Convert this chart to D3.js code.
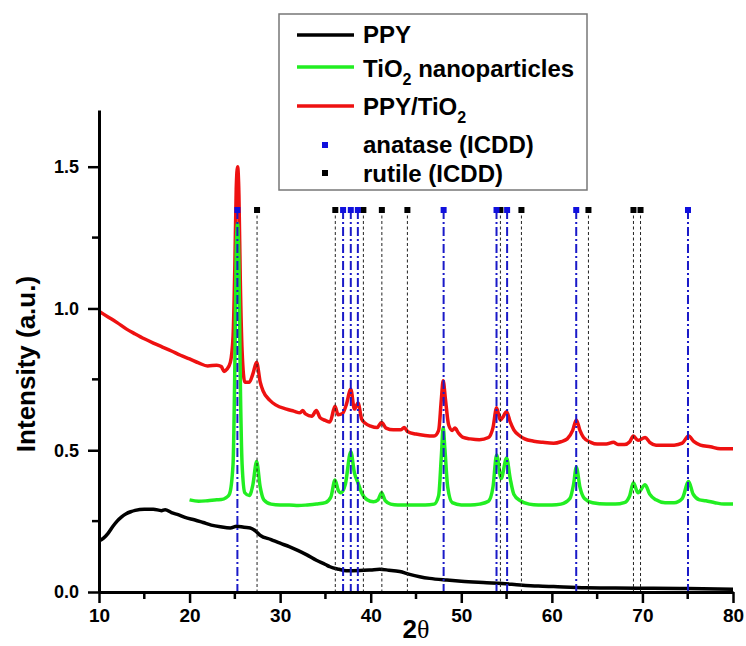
<!DOCTYPE html>
<html>
<head>
<meta charset="utf-8">
<script src="https://cdn.jsdelivr.net/npm/d3@7"></script>
<style>
  body { margin: 0; background: #fff; }
  text { font-family: Arial, "Liberation Sans", sans-serif; font-weight: bold; }
</style>
</head>
<body>
<svg></svg>
<script>
const WIDTH = 746;
const HEIGHT = 646;

// PPY (black)
const ppyX = [10, 10.5, 11, 11.5, 12, 12.5, 13, 13.5, 14, 15, 16, 16.9, 17.3, 18, 18.8, 19.5, 20.6, 21.5, 22.4, 23.4, 24.5, 25.2, 26, 26.7, 27.3, 27.8, 29, 30, 31, 32, 33, 34, 35, 35.5, 36.5, 37.3, 38.8, 40, 41, 42, 43.2, 44.3, 45.4, 46.5, 48.4, 50, 52.8, 54.5, 56.5, 58.5, 60.2, 63.8, 67, 71.2, 75, 80];
const ppyY = [0.18, 0.19, 0.207, 0.23, 0.25, 0.265, 0.276, 0.283, 0.288, 0.292, 0.292, 0.287, 0.29, 0.28, 0.272, 0.263, 0.254, 0.245, 0.236, 0.23, 0.226, 0.232, 0.228, 0.226, 0.215, 0.2, 0.185, 0.172, 0.16, 0.146, 0.13, 0.112, 0.097, 0.089, 0.08, 0.075, 0.076, 0.078, 0.08, 0.077, 0.072, 0.062, 0.054, 0.048, 0.042, 0.038, 0.033, 0.03, 0.025, 0.021, 0.019, 0.015, 0.014, 0.013, 0.012, 0.01];

// TiO2 nanoparticles (green)
const tioX = [20, 21, 22, 23, 23.5, 24, 24.4, 24.8, 25, 25.15, 25.3, 25.45, 25.6, 25.8, 26.1, 26.6, 27, 27.4, 27.8, 28.2, 29, 30, 31, 32, 33, 34, 35, 35.6, 36.06, 36.4, 36.7, 37.2, 37.8, 38.2, 38.6, 39, 39.6, 40.3, 40.8, 41.2, 41.6, 42.2, 43, 44, 45, 46, 47, 47.5, 47.8, 48, 48.2, 48.5, 49, 50, 51, 52, 53, 53.5, 53.9, 54.4, 55, 55.4, 55.8, 56.5, 57.5, 58.5, 60, 61, 62, 62.4, 62.7, 63.1, 63.6, 64.5, 66, 67, 68, 68.6, 69, 69.5, 70.3, 70.8, 71.5, 72.5, 73.5, 74.4, 75.1, 75.6, 76.3, 77, 78, 79, 80];
const tioY = [0.325, 0.32, 0.322, 0.325, 0.326, 0.332, 0.345, 0.45, 0.8, 1.2, 1.3, 1.15, 0.75, 0.45, 0.35, 0.34, 0.38, 0.46, 0.37, 0.325, 0.31, 0.307, 0.307, 0.305, 0.307, 0.31, 0.315, 0.335, 0.395, 0.36, 0.35, 0.38, 0.495, 0.42, 0.385, 0.35, 0.325, 0.318, 0.325, 0.35, 0.322, 0.31, 0.307, 0.307, 0.307, 0.307, 0.31, 0.34, 0.48, 0.58, 0.5, 0.37, 0.315, 0.307, 0.307, 0.31, 0.32, 0.37, 0.483, 0.4, 0.473, 0.4, 0.345, 0.322, 0.31, 0.307, 0.307, 0.31, 0.33, 0.38, 0.44, 0.37, 0.33, 0.315, 0.31, 0.31, 0.315, 0.34, 0.385, 0.35, 0.378, 0.345, 0.325, 0.315, 0.315, 0.33, 0.39, 0.345, 0.325, 0.322, 0.315, 0.31, 0.31];

// PPY/TiO2 (red)
const compX = [10, 11, 12, 13, 14, 15, 16, 17, 18, 19, 20, 21, 22, 23, 23.5, 23.8, 24.1, 24.5, 24.8, 25, 25.15, 25.3, 25.45, 25.6, 25.8, 26.1, 26.6, 27, 27.4, 27.8, 28.1, 28.9, 29.5, 30.7, 31.5, 32.2, 32.5, 32.8, 33.5, 34, 34.4, 35, 35.5, 36.06, 36.4, 36.9, 37.3, 37.8, 38.2, 38.6, 39, 39.4, 40, 40.7, 41.2, 41.7, 42.5, 43.3, 43.7, 44.1, 45, 46, 47, 47.5, 47.8, 48, 48.25, 48.6, 49, 49.3, 49.7, 50.2, 51, 52, 53, 53.5, 53.9, 54.3, 54.55, 55, 55.4, 55.8, 56.5, 57, 58, 59, 60.2, 61, 61.7, 62.3, 62.7, 63.1, 63.5, 64.3, 65, 66, 66.8, 67.3, 68, 68.6, 69, 69.5, 70.3, 70.8, 71.5, 72.5, 73.5, 74.4, 75.1, 75.7, 76.4, 77.5, 78.6, 80];
const compY = [0.99, 0.97, 0.95, 0.928, 0.91, 0.893, 0.878, 0.864, 0.85, 0.835, 0.822, 0.808, 0.797, 0.8, 0.795, 0.778, 0.785, 0.81, 0.9, 1.15, 1.42, 1.5, 1.4, 1.1, 0.85, 0.74, 0.74, 0.77, 0.81, 0.74, 0.71, 0.675, 0.66, 0.645, 0.638, 0.632, 0.64, 0.628, 0.62, 0.64, 0.615, 0.605, 0.6, 0.655, 0.625, 0.63, 0.66, 0.715, 0.645, 0.667, 0.61, 0.595, 0.585, 0.58, 0.598, 0.578, 0.572, 0.572, 0.58, 0.565, 0.557, 0.552, 0.55, 0.57, 0.68, 0.745, 0.68, 0.59, 0.57, 0.578, 0.56, 0.545, 0.54, 0.537, 0.545, 0.58, 0.65, 0.607, 0.615, 0.636, 0.6, 0.572, 0.55, 0.54, 0.532, 0.528, 0.525, 0.53, 0.54, 0.57, 0.607, 0.57, 0.545, 0.528, 0.522, 0.522, 0.528, 0.52, 0.52, 0.53, 0.55, 0.535, 0.545, 0.528, 0.518, 0.518, 0.518, 0.525, 0.55, 0.53, 0.518, 0.512, 0.505, 0.505];

// reference peak positions (ICDD)
const anatase = [25.28, 36.95, 37.8, 38.58, 48.05, 53.89, 55.06, 62.69, 75.03];
const rutile = [27.45, 36.09, 39.19, 41.23, 44.05, 54.32, 56.64, 64.04, 69.01, 69.79];

// tick values
const xTicks = [10, 20, 30, 40, 50, 60, 70, 80];
const xMinor = [15, 25, 35, 45, 55, 65, 75];
const yTicks = [0, 0.5, 1.0, 1.5];
const yMinor = [0.25, 0.75, 1.25];

const svg = d3.select('svg')
    .attr('width', WIDTH)
    .attr('height', HEIGHT);

const xScale = d3.scaleLinear().domain([10, 80]).range([99, 733]);
const yScale = d3.scaleLinear().domain([0, 1.7]).range([592, 110]);

const markerY = 210; // row of little squares above the pattern

function toPoints(xs, ys) {
    return xs.map(function(x, i) { return [x, ys[i]]; });
}

const line = d3.line()
    .x(function(d) { return xScale(d[0]); })
    .y(function(d) { return yScale(d[1]); })
    .curve(d3.curveMonotoneX);

// curves: black under red under green
svg.append('path').attr('d', line(toPoints(ppyX, ppyY)))
    .attr('fill', 'none').attr('stroke', '#000').attr('stroke-width', 3.5).attr('stroke-linejoin', 'round');
svg.append('path').attr('d', line(toPoints(compX, compY)))
    .attr('fill', 'none').attr('stroke', '#ee1111').attr('stroke-width', 3.5).attr('stroke-linejoin', 'round');
svg.append('path').attr('d', line(toPoints(tioX, tioY)))
    .attr('fill', 'none').attr('stroke', '#22ee22').attr('stroke-width', 3.5).attr('stroke-linejoin', 'round');

// rutile drop lines (thin dashed black)
svg.selectAll('line.rutile')
    .data(rutile)
    .enter()
    .append('line').attr('class', 'rutile')
    .attr('x1', function(d) { return xScale(d); })
    .attr('x2', function(d) { return xScale(d); })
    .attr('y1', markerY)
    .attr('y2', yScale(0))
    .attr('stroke', '#222')
    .attr('stroke-width', 1)
    .attr('stroke-dasharray', '3,2.5');

// anatase drop lines (blue dash-dot)
svg.selectAll('line.anatase')
    .data(anatase)
    .enter()
    .append('line').attr('class', 'anatase')
    .attr('x1', function(d) { return xScale(d); })
    .attr('x2', function(d) { return xScale(d); })
    .attr('y1', markerY)
    .attr('y2', yScale(0))
    .attr('stroke', '#1a1ac8')
    .attr('stroke-width', 2)
    .attr('stroke-dasharray', '9,3,2,3');

// markers
svg.selectAll('rect.rutile')
    .data(rutile)
    .enter()
    .append('rect').attr('class', 'rutile')
    .attr('x', function(d) { return xScale(d) - 3; })
    .attr('y', markerY - 3)
    .attr('width', 6).attr('height', 6)
    .attr('fill', '#000');
svg.selectAll('rect.anatase')
    .data(anatase)
    .enter()
    .append('rect').attr('class', 'anatase')
    .attr('x', function(d) { return xScale(d) - 3; })
    .attr('y', markerY - 3)
    .attr('width', 6).attr('height', 6)
    .attr('fill', '#1010dd');

// axes
const bottomAxis = d3.axisBottom(xScale).tickValues(xTicks).tickSize(11).tickSizeOuter(0).tickPadding(6);
const gx = svg.append('g').attr('id', 'bottom-axis')
    .attr('transform', 'translate(0,' + yScale(0) + ')')
    .call(bottomAxis);
gx.select('.domain').attr('stroke-width', 3);
gx.selectAll('.tick line').attr('stroke-width', 2.5);
gx.selectAll('.tick text').attr('font-size', 19).attr('font-family', 'Arial, "Liberation Sans", sans-serif').attr('font-weight', 'bold').attr('fill', '#000');
gx.selectAll('line.minor')
    .data(xMinor)
    .enter()
    .append('line').attr('class', 'minor')
    .attr('x1', function(d) { return xScale(d); })
    .attr('x2', function(d) { return xScale(d); })
    .attr('y1', 0).attr('y2', 7)
    .attr('stroke', '#000').attr('stroke-width', 2.5);

const leftAxis = d3.axisLeft(yScale).tickValues(yTicks).tickFormat(d3.format('.1f')).tickSize(11).tickSizeOuter(0).tickPadding(9);
const gy = svg.append('g').attr('id', 'left-axis')
    .attr('transform', 'translate(' + xScale(10) + ',0)')
    .call(leftAxis);
gy.select('.domain').attr('stroke-width', 3);
gy.selectAll('.tick line').attr('stroke-width', 2.5);
gy.selectAll('.tick text').attr('font-size', 18).attr('font-family', 'Arial, "Liberation Sans", sans-serif').attr('font-weight', 'bold').attr('fill', '#000');
gy.selectAll('line.minor')
    .data(yMinor)
    .enter()
    .append('line').attr('class', 'minor')
    .attr('y1', function(d) { return yScale(d); })
    .attr('y2', function(d) { return yScale(d); })
    .attr('x1', 0).attr('x2', -7)
    .attr('stroke', '#000').attr('stroke-width', 2.5);

// axis titles
svg.append('text')
    .attr('transform', 'translate(35,364) rotate(-90)')
    .attr('text-anchor', 'middle')
    .attr('font-size', 26)
    .text('Intensity (a.u.)');
const xt = svg.append('text')
    .attr('x', 416).attr('y', 638)
    .attr('text-anchor', 'middle')
    .attr('font-size', 26);
xt.append('tspan').text('2');
xt.append('tspan').attr('font-family', '"Liberation Serif", "DejaVu Serif", serif').attr('font-weight', 'normal').text('\u03b8');

// legend
const legend = svg.append('g').attr('id', 'legend');
legend.append('rect')
    .attr('x', 279).attr('y', 14).attr('width', 308).attr('height', 176)
    .attr('fill', '#fff').attr('stroke', '#777').attr('stroke-width', 1.5);

const legendLines = [
    { color: '#000', y: 35 },
    { color: '#22ee22', y: 67 },
    { color: '#ee1111', y: 106 }
];
legend.selectAll('line.item')
    .data(legendLines)
    .enter()
    .append('line').attr('class', 'item')
    .attr('x1', 297).attr('x2', 354)
    .attr('y1', function(d) { return d.y; })
    .attr('y2', function(d) { return d.y; })
    .attr('stroke', function(d) { return d.color; })
    .attr('stroke-width', 3.5);
legend.append('rect').attr('x', 322).attr('y', 142).attr('width', 6).attr('height', 6).attr('fill', '#1010dd');
legend.append('rect').attr('x', 322).attr('y', 170).attr('width', 6).attr('height', 6).attr('fill', '#000');

function legendText(y, parts) {
    const t = legend.append('text').attr('x', 363).attr('y', y).attr('font-size', 24);
    parts.forEach(function(p) {
        if (p.sub) {
            t.append('tspan').attr('dy', 8).attr('font-size', 16).text(p.s);
        } else {
            t.append('tspan').attr('dy', p.up ? -8 : 0).text(p.s);
        }
    });
}
legendText(43, [{ s: 'PPY' }]);
legendText(77, [{ s: 'TiO' }, { s: '2', sub: true }, { s: ' nanoparticles', up: true }]);
legendText(115, [{ s: 'PPY/TiO' }, { s: '2', sub: true }]);
legendText(153, [{ s: 'anatase (ICDD)' }]);
legendText(182, [{ s: 'rutile (ICDD)' }]);
</script>
</body>
</html>
